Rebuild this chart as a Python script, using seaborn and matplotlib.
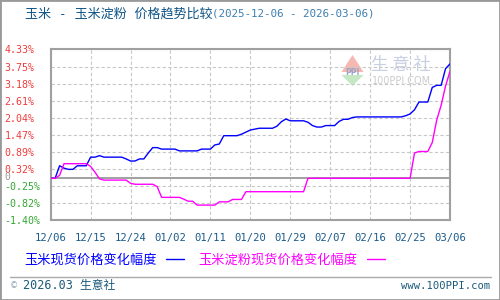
import matplotlib
matplotlib.use("Agg")
import matplotlib.pyplot as plt
from matplotlib.lines import Line2D
from matplotlib.patches import Polygon, Rectangle
from matplotlib.font_manager import FontProperties
import matplotlib.transforms as mtransforms
import seaborn as sns
import pandas as pd

# ---------------- data ----------------
start_date = "2025-12-06"
end_date = "2026-03-06"
series_names = ["玉米现货价格变化幅度", "玉米淀粉现货价格变化幅度"]
corn = [0, 0, 0.42, 0.34, 0.30, 0.30, 0.42, 0.42, 0.42, 0.71,
        0.71, 0.76, 0.71, 0.71, 0.71, 0.71, 0.71, 0.65, 0.58, 0.58,
        0.65, 0.65, 0.85, 1.03, 1.03, 0.98, 0.98, 0.98, 0.98, 0.92,
        0.92, 0.92, 0.92, 0.92, 0.98, 0.98, 0.98, 1.12, 1.15, 1.43,
        1.43, 1.43, 1.43, 1.48, 1.55, 1.62, 1.65, 1.68, 1.68, 1.68,
        1.68, 1.75, 1.90, 1.99, 1.93, 1.93, 1.93, 1.93, 1.88, 1.77,
        1.72, 1.72, 1.77, 1.77, 1.77, 1.91, 1.98, 1.98, 2.04, 2.06,
        2.06, 2.06, 2.06, 2.06, 2.06, 2.06, 2.06, 2.06, 2.06, 2.06,
        2.10, 2.16, 2.30, 2.56, 2.56, 2.56, 3.05, 3.12, 3.12, 3.68,
        3.84]
starch = [0, 0, 0.10, 0.49, 0.49, 0.49, 0.49, 0.49, 0.49, 0.40,
          0.20, -0.02, -0.06, -0.06, -0.06, -0.06, -0.06, -0.06, -0.17, -0.20,
          -0.20, -0.20, -0.20, -0.20, -0.28, -0.64, -0.64, -0.64, -0.64, -0.64,
          -0.70, -0.77, -0.77, -0.90, -0.90, -0.90, -0.90, -0.90, -0.79, -0.79,
          -0.79, -0.71, -0.71, -0.71, -0.45, -0.45, -0.45, -0.45, -0.45, -0.45,
          -0.45, -0.45, -0.45, -0.45, -0.45, -0.45, -0.45, -0.45, 0, 0,
          0, 0, 0, 0, 0, 0, 0, 0, 0, 0,
          0, 0, 0, 0, 0, 0, 0, 0, 0, 0,
          0, 0, 0.85, 0.90, 0.90, 0.90, 1.20, 1.95, 2.45, 3.10,
          3.59]
y_ticks = [-1.40, -0.82, -0.25, 0.32, 0.89, 1.47, 2.04, 2.61, 3.18, 3.75, 4.33]
y_tick_labels = ["-1.40%", "-0.82%", "-0.25%", "0.32%", "0.89%", "1.47%",
                 "2.04%", "2.61%", "3.18%", "3.75%", "4.33%"]
zero_label = "0"
x_tick_labels = ["12/06", "12/15", "12/24", "01/02", "01/11", "01/20", "01/29",
                 "02/07", "02/16", "02/25", "03/06"]
title_main = "玉米 - 玉米淀粉 价格趋势比较"
title_dates = "(2025-12-06 - 2026-03-06)"

dates = pd.date_range(start_date, end_date, freq="D")
df = pd.DataFrame({
    "date": list(dates) * 2,
    "value": corn + starch,
    "series": [series_names[0]] * len(dates) + [series_names[1]] * len(dates),
})

# ---------------- style ----------------
sns.set_theme(style="white")
plt.rcParams["font.family"] = ["DejaVu Sans", "Noto Sans CJK SC"]
CJK = "Noto Sans CJK SC"
MONO = ["DejaVu Sans Mono", "Noto Sans CJK SC"]

W, H = 500, 300
fig = plt.figure(figsize=(5, 3), dpi=100, facecolor="white")

def fx(x):
    return x / W

def fy(y):
    return 1 - y / H

L, R, T, B = 50.7, 450.0, 49.3, 220.0
ax = fig.add_axes([fx(L), fy(B), fx(R - L), (B - T) / H])
ax.patch.set_visible(False)

palette = {series_names[0]: "#0000ff", series_names[1]: "#ff00ff"}
sns.lineplot(data=df, x="date", y="value", hue="series", palette=palette,
             linewidth=1.0, legend=False, ax=ax, zorder=3)

ax.set_xlim(dates[0], dates[-1])
ax.set_ylim(y_ticks[0], y_ticks[-1])
xt = [dates[0] + pd.Timedelta(days=9 * i) for i in range(len(x_tick_labels))]
ax.set_xticks(xt)
ax.set_xticklabels(x_tick_labels, family=MONO, fontsize=7.6, color="#1a5a8a")
ax.set_yticks(y_ticks)
ax.set_yticklabels(y_tick_labels, family=MONO, fontsize=7.2)
for lab, v in zip(ax.get_yticklabels(), y_ticks):
    lab.set_horizontalalignment("left")
    lab.set_color("#f03c3c" if v > 0 else "#33a833")
ax.tick_params(axis="y", length=0, pad=33.2)
ax.tick_params(axis="x", length=0, pad=9)
ax.set_xlabel("")
ax.set_ylabel("")

ax.grid(True, linestyle=(0, (3, 2)), color="#c8c8c8", linewidth=0.8)
ax.axhline(0, color="#999999", linewidth=1.3, zorder=2)
for sp in ax.spines.values():
    sp.set_color("#a0a0a0")
    sp.set_linewidth(1.5)

# zero label, slightly above the zero line as in the reference
zero_tr = mtransforms.blended_transform_factory(fig.transFigure, ax.transData)
ax.text(fx(4.6), 0, zero_label, transform=zero_tr + mtransforms.ScaledTranslation(
            0, 1.2 / 72, fig.dpi_scale_trans),
        family=MONO, fontsize=7.0, color="#999999", ha="left", va="center",
        clip_on=False)

# ---------------- title ----------------
fig.text(fx(25), fy(14), title_main, fontsize=9.4, color="#0f5587",
         family=MONO, va="center", ha="left")
fig.text(fx(212), fy(14), title_dates, fontsize=7.8, color="#3c7fb0",
         family=MONO, va="center", ha="left")

# ---------------- watermark ----------------
fig.add_artist(Polygon([(fx(352.5), fy(55)), (fx(341.5), fy(72)), (fx(363.5), fy(72))],
                       closed=True, facecolor="#f6b8b0", edgecolor="none", zorder=-1,
                       transform=fig.transFigure))
fig.add_artist(Polygon([(fx(341.5), fy(75)), (fx(363.5), fy(75)), (fx(352.5), fy(86))],
                       closed=True, facecolor="#c4e8c4", edgecolor="none", zorder=-1,
                       transform=fig.transFigure))
fig.text(fx(352.5), fy(72.5), "PPI", fontsize=5.5, color="#9aa6c8", ha="center",
         va="center", zorder=-1, weight="bold")
fig.text(fx(371), fy(65.5), "生 意 社", fontsize=12.5, color="#c8cfe2",
         family=[CJK], ha="left", va="center", zorder=-1)
fig.text(fx(372), fy(81), "100PPI.COM", fontsize=7, color="#cccccc",
         family="DejaVu Sans", ha="left", va="center", zorder=-1)

# ---------------- legend ----------------
handles = [Line2D([], [], color="#0000ff", linewidth=1),
           Line2D([], [], color="#ff00ff", linewidth=1)]
leg = fig.legend(handles, series_names, loc="center left",
                 bbox_to_anchor=(fx(24), fy(260)), ncol=2, markerfirst=False,
                 frameon=False, prop=FontProperties(family=CJK, size=9.5),
                 handlelength=1.4, handletextpad=0.7, columnspacing=1.1,
                 borderpad=0, borderaxespad=0)
for t, c in zip(leg.get_texts(), ["#0000ff", "#ff00ff"]):
    t.set_color(c)

# ---------------- footer ----------------
fig.add_artist(Line2D([fx(10), fx(491)], [fy(276.7), fy(276.7)], color="#aaaaaa",
                      linewidth=1, transform=fig.transFigure))
fig.text(fx(10), fy(286), "©", fontsize=6, color="#8aa0b0", family="DejaVu Sans",
         ha="left", va="center")
fig.text(fx(23), fy(286), "2026.03 生意社", fontsize=8.5, color="#1a5a7a",
         family=MONO, ha="left", va="center")
fig.text(fx(490), fy(286), "www.100PPI.com", fontsize=7.6, color="#1a5a7a",
         family=MONO, ha="right", va="center")

# outer border
fig.add_artist(Rectangle((0, 0), 1, 1, transform=fig.transFigure, fill=False,
                         edgecolor="#999999", linewidth=2))

fig.savefig("out.png", dpi=100, facecolor="white")
